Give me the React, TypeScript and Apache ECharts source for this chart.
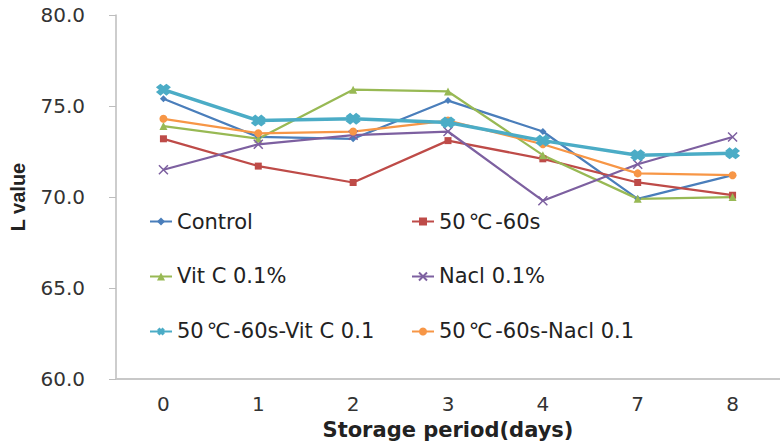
import React, { useEffect, useRef } from "react";
import * as echarts from "echarts";

const days = ["0", "1", "2", "3", "4", "7", "8"];
const seriesNames = [
  "Control",
  "50℃-60s",
  "Vit C 0.1%",
  "Nacl 0.1%",
  "50℃-60s-Vit C 0.1",
  "50℃-60s-Nacl 0.1",
];
const control = [75.4, 73.3, 73.2, 75.3, 73.6, 69.9, 71.2];
const heat = [73.2, 71.7, 70.8, 73.1, 72.1, 70.8, 70.1];
const vitC = [73.9, 73.2, 75.9, 75.8, 72.3, 69.9, 70.0];
const nacl = [71.5, 72.9, 73.4, 73.6, 69.8, 71.8, 73.3];
const heatVitC = [75.9, 74.2, 74.3, 74.1, 73.1, 72.3, 72.4];
const heatNacl = [74.3, 73.5, 73.6, 74.2, 72.9, 71.3, 71.2];
const yTicks = { min: 60, max: 80, interval: 5 };

const colors = ["#4A7EBB", "#BE4B48", "#98B954", "#7D60A0", "#4BACC6", "#F79646"];
const FONT = "'DejaVu Sans', 'Noto Sans CJK SC', sans-serif";

export default function App() {
  const ref = useRef<HTMLDivElement>(null);
  useEffect(() => {
    if (!ref.current) return;
    const chart = echarts.init(ref.current, null, { renderer: "svg" });
    const values = [control, heat, vitC, nacl, heatVitC, heatNacl];
    const symbols = [
      "diamond",
      "rect",
      "triangle",
      "path://M0,0L10,10M10,0L0,10",
      "path://M3,0L5,2L7,0L10,3L8,5L10,7L7,10L5,8L3,10L0,7L2,5L0,3Z",
      "circle",
    ];
    const sizes: any[] = [7, 7, 8, 9, [15, 12], 8];
    const widths = [2.25, 2.25, 2.25, 2.25, 3.5, 2.25];
    const series = seriesNames.map((name, i) => ({
      name,
      type: "line",
      data: values[i],
      symbol: symbols[i],
      symbolSize: sizes[i],
      showSymbol: true,
      lineStyle: { color: colors[i], width: widths[i] },
      itemStyle:
        i === 3
          ? { color: colors[i], borderColor: colors[i], borderWidth: 1.5 }
          : { color: colors[i] },
      z: i === 4 ? 3 : 2,
    }));
    const legendBase = {
      orient: "vertical",
      padding: 0,
      itemGap: 34,
      itemWidth: 22,
      itemHeight: 10,
      top: 211,
      formatter: (name: string) => name.replace("℃", "{c|℃}"),
      textStyle: {
        fontFamily: FONT,
        fontSize: 21,
        color: "#222",
        rich: {
          c: {
            fontFamily: FONT,
            fontSize: 21,
            color: "#222",
            padding: [0, 3, 0, 3],
          },
        },
      },
    };
    chart.setOption({
      animation: false,
      backgroundColor: "#fff",
      grid: { left: 116, top: 15, width: 668, bottom: 65 },
      legend: [
        { ...legendBase, left: 149, data: [seriesNames[0], seriesNames[2], seriesNames[4]] },
        { ...legendBase, left: 411, data: [seriesNames[1], seriesNames[3], seriesNames[5]] },
      ],
      xAxis: {
        type: "category",
        data: days,
        boundaryGap: true,
        axisLine: { lineStyle: { color: "#c8c8c8", width: 2 } },
        axisTick: { show: false },
        axisLabel: { fontFamily: FONT, fontSize: 20, color: "#333", margin: 15 },
        name: "Storage period(days)",
        nameLocation: "middle",
        nameGap: 37,
        nameTextStyle: { fontFamily: FONT, fontSize: 21, fontWeight: "bold", color: "#222" },
      },
      yAxis: {
        type: "value",
        min: yTicks.min,
        max: yTicks.max,
        interval: yTicks.interval,
        axisLine: { show: true, lineStyle: { color: "#bdbdbd", width: 1.5 } },
        axisTick: { show: true, length: 7, lineStyle: { color: "#bdbdbd" } },
        splitLine: { show: false },
        axisLabel: {
          fontFamily: FONT,
          fontSize: 20,
          color: "#333",
          margin: 31,
          formatter: (v: number) => v.toFixed(1),
        },
        name: "L value",
        nameLocation: "middle",
        nameGap: 88,
        nameTextStyle: {
          fontFamily: "'Liberation Sans', Arial, sans-serif",
          fontSize: 20,
          fontWeight: "bold",
          color: "#222",
        },
      },
      series,
    });
    return () => chart.dispose();
  }, []);
  return <div ref={ref} style={{ width: 780, height: 445, position: "absolute", left: 0, top: 0 }} />;
}
